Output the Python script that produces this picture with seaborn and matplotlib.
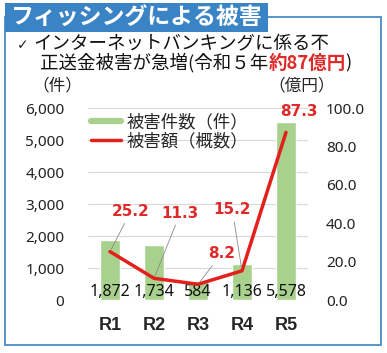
import numpy as np
import matplotlib
matplotlib.use("Agg")
import matplotlib.pyplot as plt
import seaborn as sns
from matplotlib.patches import Rectangle
from matplotlib.lines import Line2D
from matplotlib.ticker import FuncFormatter

categories = ["R1", "R2", "R3", "R4", "R5"]
counts = [1872, 1734, 584, 1136, 5578]
amounts = [25.2, 11.3, 8.2, 15.2, 87.3]
left_ticks = [0, 1000, 2000, 3000, 4000, 5000, 6000]
right_ticks = [0, 20, 40, 60, 80, 100]
# label offsets (points) for amount labels
amount_offsets = [(15, 29), (19, 47), (17, 22), (-7, 44), (9, 15)]
amount_leader = [True, True, True, True, False]

sns.set_theme(style="white")
plt.rcParams["font.family"] = ["Noto Sans", "Noto Sans CJK JP", "DejaVu Sans"]

W, H = 387, 353
fig = plt.figure(figsize=(W / 100, H / 100), dpi=100)
fig.patch.set_facecolor("white")

def fx(px):
    return px / W

def fy(py):
    return 1 - py / H

# outer frame and title box
frame_col = "#4a8cc4"
fig.add_artist(Rectangle((fx(5), fy(345)), fx(381) - fx(5), fy(17) - fy(345),
                         transform=fig.transFigure, fill=False,
                         edgecolor=frame_col, lw=1.3))
fig.add_artist(Rectangle((fx(5), fy(32)), fx(268) - fx(5), fy(3) - fy(32),
                         transform=fig.transFigure, facecolor="#3a84c6",
                         edgecolor="none"))
fig.text(fx(136), fy(18), "フィッシングによる被害", color="white",
         fontsize=16.5, fontweight="bold", ha="center", va="center",
         family=["Noto Sans CJK JP"])

# subtitle
fig.text(fx(17), fy(45), "✓", fontsize=10, ha="left", va="center", color="#222222",
         family=["DejaVu Sans"])
fig.text(fx(33), fy(43.5), "インターネットバンキングに係る不", fontsize=13.3,
         ha="left", va="center", family=["Noto Sans CJK JP"], color="#111111")
t1 = fig.text(fx(40), fy(63), "正送金被害が急増(令和５年", fontsize=13.3,
              ha="left", va="center", family=["Noto Sans CJK JP"], color="#111111")
fig.canvas.draw()
bb = t1.get_window_extent()
t2 = fig.text(bb.x1 / W, fy(63), "約87億円", fontsize=13.3, ha="left", va="center",
              family=["Noto Sans CJK JP"], fontweight="bold", color="#e02a2a")
fig.canvas.draw()
bb2 = t2.get_window_extent()
fig.text(bb2.x1 / W, fy(63), ")", fontsize=13.3, ha="left", va="center",
         family=["Noto Sans CJK JP"], color="#111111")

# axis unit labels
fig.text(fx(57), fy(86), "（件）", fontsize=12, ha="center", va="center",
         family=["Noto Sans CJK JP"])
fig.text(fx(302), fy(86), "（億円）", fontsize=12, ha="center", va="center",
         family=["Noto Sans CJK JP"])

ax = fig.add_axes([fx(88), fy(300), fx(308) - fx(88), fy(108) - fy(300)])
sns.barplot(x=categories, y=counts, color="#a9d18e", saturation=1, width=0.45, ax=ax)
ax.set_xlim(-0.5, 4.5)
ax.set_ylim(0, 6000)
ax.set_yticks(left_ticks)
ax.yaxis.set_major_formatter(FuncFormatter(lambda v, p: f"{int(v):,}"))
ax.yaxis.grid(True, color="#d9d9d9", lw=0.8)
ax.set_axisbelow(True)
for s in ax.spines.values():
    s.set_visible(False)
ax.set_xlabel("")
ax.set_ylabel("")
ax.tick_params(axis="y", length=0, pad=17, labelsize=11, labelcolor="#222222")
ax.tick_params(axis="x", length=0, pad=12, labelsize=13)
for lab in ax.get_xticklabels():
    lab.set_fontweight("bold")
    lab.set_family(["Liberation Sans", "DejaVu Sans"])
ax.patch.set_alpha(0)

for i, c in enumerate(counts):
    ax.annotate(f"{c:,}", xy=(i, 0), xytext=(0, 6), textcoords="offset points",
                ha="center", va="center", fontsize=11.5, color="#111111")

ax2 = ax.twinx()
sns.lineplot(x=np.arange(len(categories)), y=amounts, color="#e3201b", lw=2.5, ax=ax2)
ax2.set_ylim(0, 100)
ax2.set_yticks(right_ticks)
ax2.yaxis.set_major_formatter(FuncFormatter(lambda v, p: f"{v:.1f}"))
for s in ax2.spines.values():
    s.set_visible(False)
ax2.set_ylabel("")
ax2.tick_params(axis="y", length=0, pad=13, labelsize=11, labelcolor="#222222")

for i, (v, off, lead) in enumerate(zip(amounts, amount_offsets, amount_leader)):
    ap = dict(arrowstyle="-", color="#8a8a8a", lw=0.6, shrinkA=1, shrinkB=2) if lead else None
    ax2.annotate(f"{v:.1f}", xy=(i, v), xytext=off, textcoords="offset points",
                 ha="center", va="center", fontsize=11, fontweight="bold",
                 family=["DejaVu Sans"], color="#e02a2a", arrowprops=ap)

handles = [Line2D([0], [0], color="#a9d18e", lw=4.5),
           Line2D([0], [0], color="#e3201b", lw=2.5)]
leg = ax2.legend(handles, ["被害件数（件）", "被害額（概数）"], loc="upper left",
                 bbox_to_anchor=(fx(91), fy(113)), bbox_transform=fig.transFigure,
                 frameon=False, handlelength=1.75, handletextpad=0.3,
                 labelspacing=0.05, borderpad=0, borderaxespad=0,
                 prop={"family": ["Noto Sans CJK JP"], "size": 12.5})

fig.savefig("out.png", dpi=100)
